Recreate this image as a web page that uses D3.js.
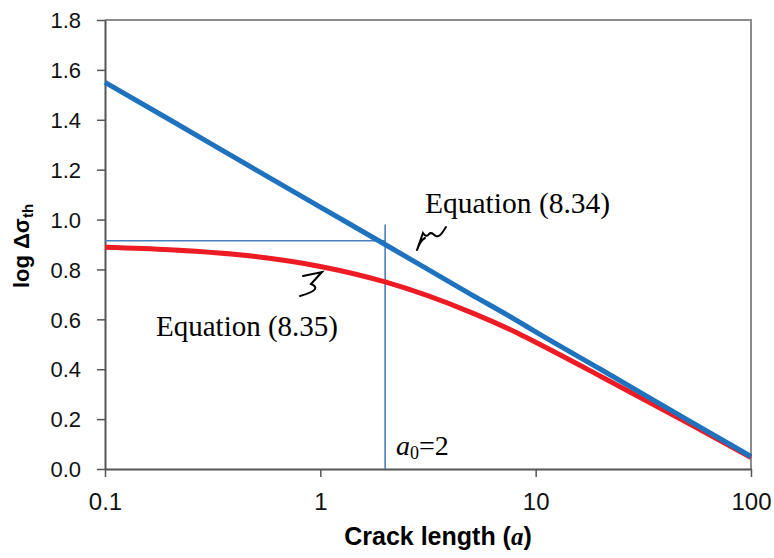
<!DOCTYPE html>
<html><head><meta charset="utf-8">
<script src="https://cdn.jsdelivr.net/npm/d3@7"></script>
<style>body{margin:0;background:#fff}svg{display:block}</style>
</head><body>
<script>
// Data
const crackLength = [0.1, 0.2, 0.5, 1, 2, 5, 8, 10, 20, 50, 100];
const eq834 = [1.55, 1.40, 1.20, 1.05, 0.90, 0.70, 0.60, 0.55, 0.40, 0.20, 0.05];
const eq835 = [0.889, 0.879, 0.852, 0.812, 0.750, 0.628, 0.550, 0.508, 0.372, 0.188, 0.046];
const xTicks = [0.1, 1, 10, 100];
const xTickLabels = ["0.1", "1", "10", "100"];
const yTicks = [0, 0.2, 0.4, 0.6, 0.8, 1.0, 1.2, 1.4, 1.6, 1.8];
const a0 = 2;
const a0Level = 0.915;
const a0LineTop = 0.98;

const W = 774, H = 558;
const m = {left: 105, right: 23, top: 20, bottom: 89};
const svg = d3.select("body").append("svg").attr("width", W).attr("height", H);
const x = d3.scaleLog().domain([0.1, 100]).range([m.left, W - m.right]);
const y = d3.scaleLinear().domain([0, 1.8]).range([H - m.bottom, m.top]);

// frame (top & right)
svg.append("path")
  .attr("d", `M${x(0.1)},${y(1.8)}H${x(100)}V${y(0)}`)
  .attr("fill", "none").attr("stroke", "#8c8c8c").attr("stroke-width", 2);

// axes
const xAxis = svg.append("g").attr("transform", `translate(0,${y(0)})`)
  .call(d3.axisBottom(x).tickValues(xTicks).tickFormat((d, i) => xTickLabels[i]).tickSize(8).tickSizeOuter(0));
const yAxis = svg.append("g").attr("transform", `translate(${x(0.1)},0)`)
  .call(d3.axisLeft(y).tickValues(yTicks).tickFormat(d3.format(".1f")).tickSize(8).tickSizeOuter(0));
[xAxis, yAxis].forEach(g => {
  g.select(".domain").attr("stroke", "#555").attr("stroke-width", 2);
  g.selectAll(".tick line").attr("stroke", "#555").attr("stroke-width", 1.5);
  g.selectAll("text").attr("font-family", "Arial, 'Liberation Sans', sans-serif").attr("fill", "#111");
});
yAxis.selectAll("text").attr("font-size", 22).attr("x", -24).attr("dy", "0.35em");
xAxis.selectAll("text").attr("font-size", 24).attr("y", 24).attr("dy", "0.71em");

// a0 guide lines
svg.append("line").attr("x1", x(0.1)).attr("x2", x(a0)).attr("y1", y(a0Level)).attr("y2", y(a0Level))
  .attr("stroke", "#4a7ebb").attr("stroke-width", 1.6);
svg.append("line").attr("x1", x(a0)).attr("x2", x(a0)).attr("y1", y(0)).attr("y2", y(a0LineTop))
  .attr("stroke", "#4a7ebb").attr("stroke-width", 1.6);

// series
const line = d3.line().x((d, i) => x(crackLength[i])).y(d => y(d)).curve(d3.curveMonotoneX);
svg.append("path").attr("d", line(eq835)).attr("fill", "none").attr("stroke", "#ed1c24").attr("stroke-width", 5);
svg.append("path").attr("d", line(eq834)).attr("fill", "none").attr("stroke", "#1f72bd").attr("stroke-width", 5);

// annotations
const serif = "'Liberation Serif', 'Times New Roman', serif";
svg.append("text").attr("x", 425).attr("y", 213).attr("font-family", serif).attr("font-size", 29.5).text("Equation (8.34)");
svg.append("text").attr("x", 156).attr("y", 336).attr("font-family", serif).attr("font-size", 29).text("Equation (8.35)");
const a0t = svg.append("text").attr("x", 396).attr("y", 455).attr("font-family", serif).attr("font-size", 28);
a0t.append("tspan").attr("font-style", "italic").text("a");
a0t.append("tspan").attr("font-size", 18).attr("dy", 4).text("0");
a0t.append("tspan").attr("dy", -4).text("=2");

// hand-drawn arrows
svg.append("path").attr("d", "M446,227 C442,233 440,237 436,236 C433,235 432,231 429,234 C427,237 425,236 423,233 L417,250 M417,250 C419,244 421,240 425,238")
  .attr("fill", "none").attr("stroke", "#000").attr("stroke-width", 2).attr("stroke-linecap", "round");
svg.append("path").attr("d", "M303,276 L322,272 L311,284 C318,287 318,291 300,296 M322,272 L318,276")
  .attr("fill", "none").attr("stroke", "#000").attr("stroke-width", 2).attr("stroke-linecap", "round");

// axis titles
const sans = "Arial, 'Liberation Sans', sans-serif";
const xt = svg.append("text").attr("x", 438).attr("y", 545).attr("text-anchor", "middle")
  .attr("font-family", sans).attr("font-weight", "bold").attr("font-size", 25);
xt.append("tspan").text("Crack length (");
xt.append("tspan").attr("font-family", serif).attr("font-style", "italic").text("a");
xt.append("tspan").text(")");

const yt = svg.append("text").attr("transform", "translate(29,246) rotate(-90)").attr("text-anchor", "middle")
  .attr("font-family", sans).attr("font-weight", "bold").attr("font-size", 22);
yt.append("tspan").text("log Δσ");
yt.append("tspan").attr("font-size", 15).attr("dy", 4).text("th");
</script>
</body></html>
